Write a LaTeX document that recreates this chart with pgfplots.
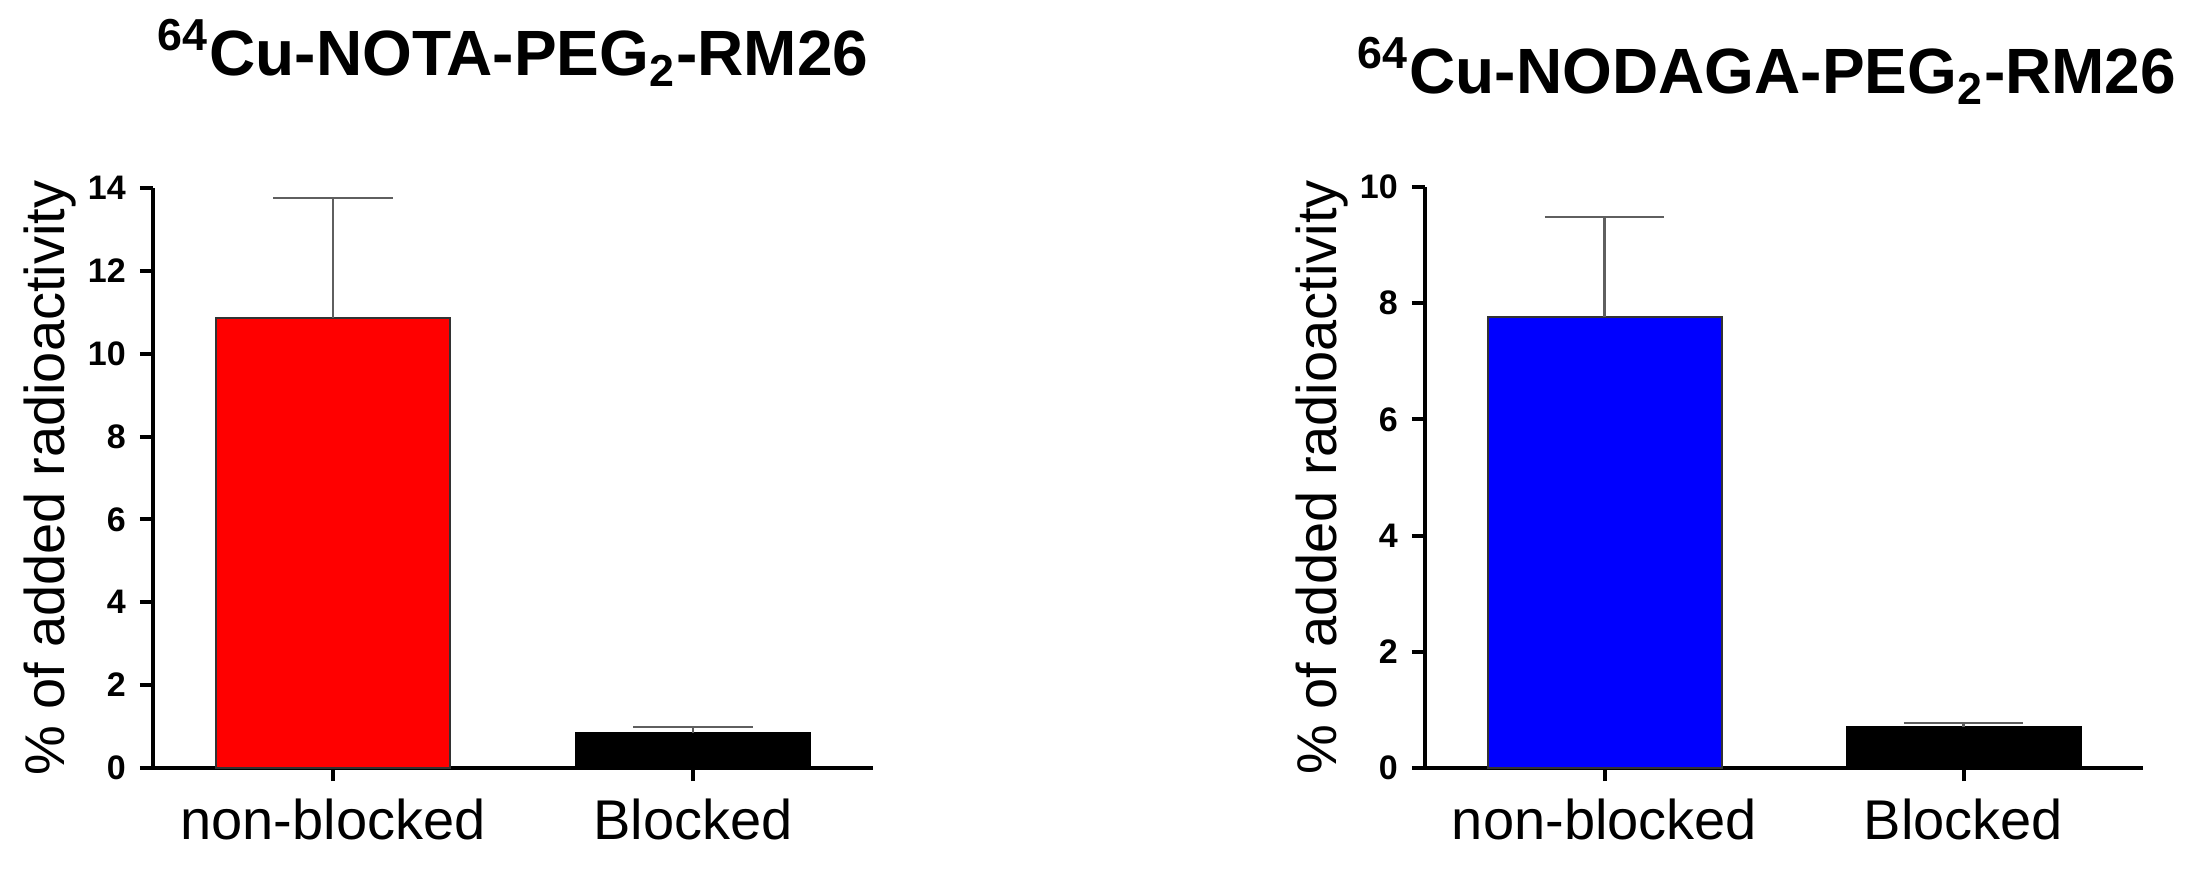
\documentclass[border=0pt]{standalone}
\usepackage{fontspec}
\setmainfont{Liberation Sans}
\usepackage{pgfplots}
\pgfplotsset{compat=1.18}

\definecolor{errgray}{RGB}{95,95,95}

\pgfplotsset{
  uptake/.style={
    scale only axis, width=180pt, height=145pt,
    anchor=south west,
    ybar, bar width=58.5pt, bar shift=0pt,
    xmin=-0.5, xmax=1.5, ymin=0,
    xtick={0,1}, xticklabels={non-blocked, Blocked},
    axis lines=left, axis line style={-, line width=1pt},
    tick align=outside, major tick length=3.3pt,
    tick style={black, line width=1pt},
    /pgf/number format/assume math mode=true,
    x tick label style={font=\fontsize{14}{14}\selectfont, yshift=-1pt},
    y tick label style={font=\fontsize{8.5}{8.5}\selectfont\bfseries},
    ylabel={\% of added radioactivity},
    ylabel style={font=\fontsize{14}{14}\selectfont, yshift=-4pt},
    title style={font=\fontsize{16}{16}\selectfont\bfseries, anchor=base, at={(0.5,1)}},
    clip=false,
    error bars/y dir=plus, error bars/y explicit,
    error bars/error bar style={errgray, line width=0.6pt},
    error bars/error mark options={rotate=90, mark size=14.9pt, line width=0.6pt, errgray},
  },
}

\begin{document}
\begin{tikzpicture}
% NOTA conjugate
\begin{axis}[uptake, at={(38.25pt,26.25pt)},
  ymax=14, ytick={0,2,...,14},
  title={\textsuperscript{64}Cu-NOTA-PEG\textsubscript{2}-RM26},
  title style={yshift=22pt}]
  \addplot[fill=red, draw=black!80, line width=0.5pt]
    coordinates {(0,10.85) +- (0,2.91)};
  \addplot[fill=black, draw=black, line width=0.5pt]
    coordinates {(1,0.84) +- (0,0.15)};
\end{axis}
% NODAGA conjugate
\begin{axis}[uptake, at={(356.25pt,26.25pt)}, width=179.5pt, height=145.25pt,
  ymax=10, ytick={0,2,...,10},
  title={\textsuperscript{64}Cu-NODAGA-PEG\textsubscript{2}-RM26},
  title style={yshift=17.25pt, xshift=-4.25pt}]
  \addplot[fill=blue, draw=black!80, line width=0.5pt]
    coordinates {(0,7.77) +- (0,1.71)};
  \addplot[fill=black, draw=black, line width=0.5pt]
    coordinates {(1,0.70) +- (0,0.07)};
\end{axis}
\pgfresetboundingbox
\path[use as bounding box] (0,0) rectangle (547pt,218.25pt);
\end{tikzpicture}
\end{document}
